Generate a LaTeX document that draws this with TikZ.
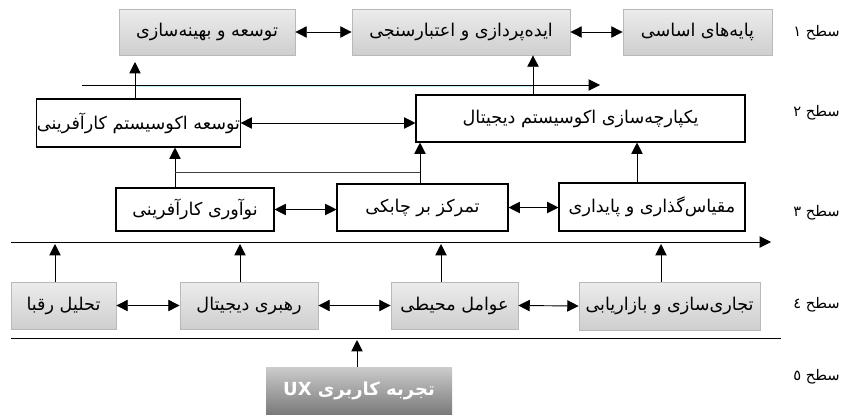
\documentclass[tikz,border=0pt]{standalone}
\usepackage{fontspec}
\usetikzlibrary{arrows.meta}
\TeXXeTstate=1
\newfontfamily\arabicfont[Script=Arabic]{DejaVu Sans}
\newcommand{\artxt}[1]{\beginR #1\endR}
\tikzset{
  sz/.style 2 args={minimum width=#1*0.75pt, minimum height=#2*0.75pt},
  basebox/.style={inner sep=0pt, font=\arabicfont\fontsize{13.2}{15}\selectfont},
  wbox/.style={basebox, draw=black, line width=0.8pt, fill=white},
  gbox/.style={basebox, draw=gray!55, line width=0.6pt, top color=gray!15, bottom color=gray!38},
  uxbox/.style={basebox, top color=black!20, bottom color=black!52, text=white, font=\arabicfont\bfseries\fontsize{13.5}{15}\selectfont},
  lvl/.style={anchor=east, inner sep=0pt, font=\arabicfont\fontsize{11}{13}\selectfont},
  tip/.tip={Triangle[length=8.5pt,width=8.5pt]},
  arr/.style={line width=0.7pt, -tip},
  darr/.style={line width=0.7pt, tip-tip},
  ln/.style={line width=0.7pt}
}
\begin{document}
\begin{tikzpicture}[x=0.75pt,y=-0.75pt]
\useasboundingbox (0,0) rectangle (841,414);
% level 1
\node[gbox, sz={176}{46}] (g1) at (207,32) {\artxt{توسعه و بهینه^^^^200cسازی}};
\node[gbox, sz={218}{46}] (g2) at (461,32) {\artxt{ایده^^^^200cپردازی و اعتبارسنجی}};
\node[gbox, sz={149}{46}] (g3) at (697.5,32) {\artxt{پایه^^^^200cهای اساسی}};
% level 2
\node[wbox, sz={203}{48}] (w1) at (138.5,123) {\artxt{توسعه اکوسیستم کارآفرینی}};
\node[wbox, sz={329}{47}] (w2) at (580.5,118.5) {\artxt{یکپارچه^^^^200cسازی اکوسیستم دیجیتال}};
% level 3
\node[wbox, sz={158}{43}] (n1) at (195,209.5) {\artxt{نوآوری کارآفرینی}};
\node[wbox, sz={171}{47}] (n2) at (422.5,207.5) {\artxt{تمرکز بر چابکی}};
\node[wbox, sz={186}{48}] (n3) at (652,207) {\artxt{مقیاس^^^^200cگذاری و پایداری}};
% level 4
\node[gbox, sz={105}{47}] (b1) at (63.5,305.5) {\artxt{تحلیل رقبا}};
\node[gbox, sz={138}{47}] (b2) at (249,305.5) {\artxt{رهبری دیجیتال}};
\node[gbox, sz={127}{47}] (b3) at (454.5,305.5) {\artxt{عوامل محیطی}};
\node[gbox, sz={181}{48}] (b4) at (669.5,306) {\artxt{تجاری^^^^200cسازی و بازاریابی}};
% level 5
\node[uxbox, sz={186}{47}] (ux) at (359,390.5) {\artxt{تجربه کاربری \beginL UX\endL}};
% level labels
\node[lvl] (l1) at (840,33) {\artxt{سطح ۱}};
\node[lvl] (l2) at (840,113) {\artxt{سطح ۲}};
\node[lvl] (l3) at (840,213) {\artxt{سطح ۳}};
\node[lvl] (l4) at (840,305) {\artxt{سطح ٤}};
\node[lvl] (l5) at (840,377) {\artxt{سطح ٥}};
% coordinates
\coordinate (ta) at (82,85);
\coordinate (tb) at (600,85);
\coordinate (xa) at (135,0);
\coordinate (xb) at (533,0);
\coordinate (xc) at (175,0);
\coordinate (xd) at (420,0);
\coordinate (xe) at (637,0);
\coordinate (j1) at (175,172);
\coordinate (j2) at (420,172);
\coordinate (ma) at (11,242);
\coordinate (mb) at (771,242);
\coordinate (p1) at (55,244);
\coordinate (p2) at (240,244);
\coordinate (p3) at (441,244);
\coordinate (p4) at (661,244);
\coordinate (la) at (11,338);
\coordinate (lb) at (781,338);
\coordinate (q1) at (357,340);
\coordinate (ga) at (135,62);
% level 1 links
\draw[darr] (g1.east) -- (g2.west);
\draw[darr] (g2.east) -- (g3.west);
% top line
\draw[cyan!25, line width=0.6pt] (137,86.3) -- (533,86.3);
\draw[arr] (ta) -- (tb);
\draw[arr] (w1.north -| xa) -- (ga);
\draw[arr] (w2.north -| xb) -- (g2.south -| xb);
% level 2 link
\draw[darr] (w1.east) -- (w1.east -| w2.west);
% level 3 to 2
\draw[arr] (n1.north -| xc) -- (w1.south -| xc);
\draw[arr] (n2.north -| xd) -- (w2.south -| xd);
\draw[ln, black!75] (j1) -- (j2);
\draw[arr] (n3.north -| xe) -- (w2.south -| xe);
% level 3 links
\draw[darr] (n1.east) -- (n1.east -| n2.west);
\draw[darr] (n2.east) -- (n2.east -| n3.west);
% middle line
\draw[arr] (ma) -- (mb);
\draw[arr] (b1.north -| p1) -- (p1);
\draw[arr] (b2.north -| p2) -- (p2);
\draw[arr] (b3.north -| p3) -- (p3);
\draw[arr] (b4.north -| p4) -- (p4);
% level 4 links
\draw[darr] (b1.east) -- (b2.west);
\draw[darr] (b2.east) -- (b3.west);
\draw[darr] (b3.east) -- (b4.west);
% bottom line
\draw[ln] (la) -- (lb);
\draw[arr] (ux.north -| q1) -- (q1);
\end{tikzpicture}
\end{document}
